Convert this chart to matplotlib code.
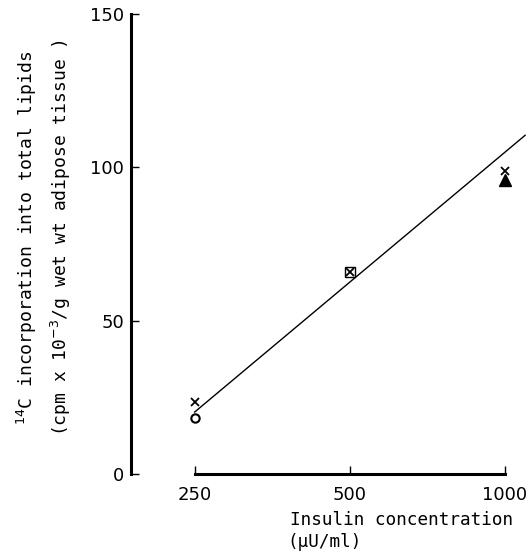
import matplotlib
matplotlib.use('Agg')
import matplotlib.pyplot as plt

# data
conc_ticks = [250, 500, 1000]
tick_labels = ['250', '500', '1000']
y_ticks = [0, 50, 100, 150]

cross_x = [250, 500, 1000]
cross_y = [23.5, 66, 99]
circle_x = [250]
circle_y = [18.2]
square_x = [500]
square_y = [65.8]
triangle_x = [1000]
triangle_y = [95.8]

# fitted line
line_x = [250, 1095]
line_y = [20.2, 110.5]

# typewriter-like look of the original
plt.rcParams['font.family'] = ['DejaVu Sans Mono']
plt.rcParams['mathtext.fontset'] = 'dejavusans'

fig = plt.figure(figsize=(5.32, 5.6), dpi=100)
ax = fig.add_axes([0.246, 0.1536, 0.743, 0.821])

ax.plot(line_x, line_y, color='black', linewidth=1.0)
ax.plot(cross_x, cross_y, linestyle='none', marker='x', color='black',
        markersize=6, markeredgewidth=1.3)
ax.plot(circle_x, circle_y, linestyle='none', marker='o', markerfacecolor='white',
        markeredgecolor='black', markersize=6, markeredgewidth=1.5)
ax.plot(square_x, square_y, linestyle='none', marker='s', markerfacecolor='none',
        markeredgecolor='black', markersize=7, markeredgewidth=1.0)
ax.plot(triangle_x, triangle_y, linestyle='none', marker='^', color='black',
        markersize=8)

ax.set_xscale('log', base=2)
ax.set_xlim(188, 1100)
ax.set_ylim(0, 150)
ax.set_xticks(conc_ticks)
ax.set_xticklabels(tick_labels, family='DejaVu Sans')
ax.xaxis.set_minor_locator(matplotlib.ticker.NullLocator())
ax.set_yticks(y_ticks)
ax.set_yticklabels([str(v) for v in y_ticks], family='DejaVu Sans')

ax.spines['right'].set_visible(False)
ax.spines['top'].set_visible(False)
ax.spines['left'].set_linewidth(2.2)
ax.spines['bottom'].set_linewidth(2.2)
ax.spines['bottom'].set_bounds(250, 1000)
ax.spines['left'].set_bounds(0, 150)

ax.tick_params(axis='both', direction='in', length=6, width=1.0, labelsize=13)
ax.tick_params(axis='x', pad=9)
ax.tick_params(axis='y', pad=5)

fig.text(0.051, 0.575, r'$^{14}$C incorporation into total lipids',
         rotation=90, ha='center', va='center', fontsize=13)
fig.text(0.115, 0.575, r'(cpm x 10$^{-3}$/g wet wt adipose tissue )',
         rotation=90, ha='center', va='center', fontsize=13)

fig.text(0.545, 0.071, 'Insulin concentration', ha='left', va='center', fontsize=12.7)
fig.text(0.541, 0.032, '(μU/ml)', ha='left', va='center', fontsize=12.7)

fig.savefig('out.png', dpi=100)
